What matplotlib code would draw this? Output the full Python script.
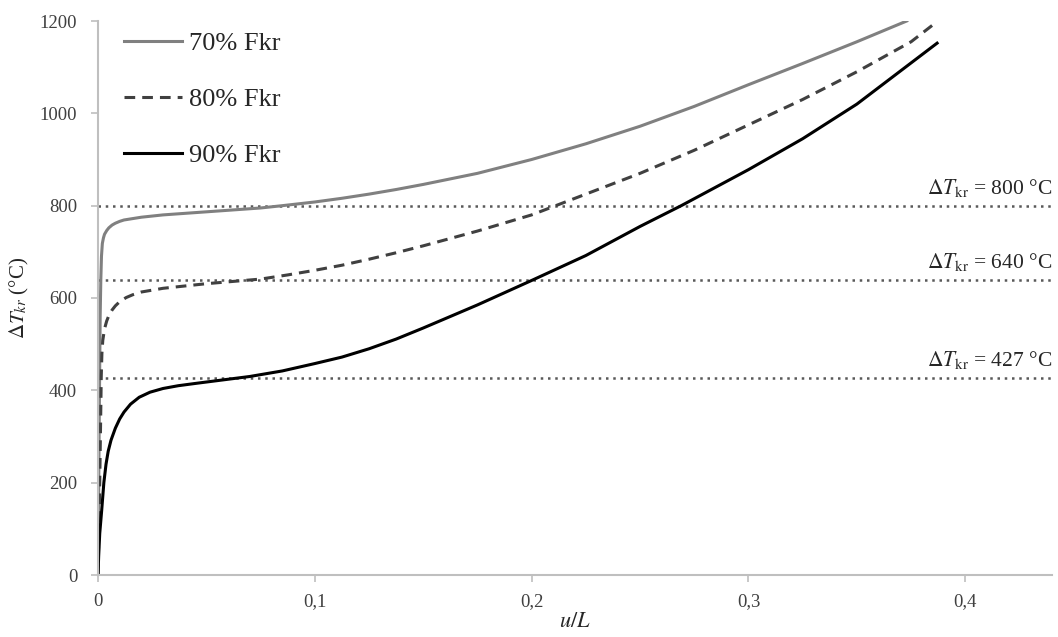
import matplotlib
matplotlib.use("Agg")
import matplotlib.pyplot as plt
from matplotlib.ticker import FuncFormatter

# u/L and Delta T_kr for each load level
u70 = [0, 0.0003, 0.0006, 0.001, 0.0013, 0.0016, 0.002, 0.0025, 0.003, 0.004, 0.005, 0.0065,
       0.008, 0.01, 0.012, 0.016, 0.02, 0.03, 0.045, 0.06, 0.075, 0.085, 0.1, 0.1125, 0.125,
       0.1375, 0.15, 0.175, 0.2, 0.225, 0.25, 0.275, 0.3, 0.325, 0.35, 0.373]
t70 = [0, 180, 350, 560, 640, 690, 718, 730, 738, 746, 752, 758,
       762, 766, 769, 772, 775, 780, 785, 790, 795, 800, 808, 816, 825,
       835, 846, 870, 900, 934, 972, 1015, 1062, 1108, 1155, 1200]

u80 = [0, 0.0005, 0.0008, 0.0012, 0.0015, 0.0018, 0.0022, 0.003, 0.004, 0.005, 0.0065, 0.008,
       0.01, 0.013, 0.016, 0.02, 0.025, 0.03, 0.04, 0.05, 0.0625, 0.075, 0.0875, 0.1, 0.1125,
       0.125, 0.1375, 0.15, 0.175, 0.2, 0.225, 0.25, 0.275, 0.3, 0.325, 0.35, 0.375, 0.386]
t80 = [0, 120, 200, 330, 430, 480, 508, 533, 550, 562, 574, 583,
       592, 601, 607, 613, 617, 621, 626, 631, 636, 641, 650, 660, 671,
       684, 698, 713, 745, 780, 825, 870, 920, 975, 1030, 1090, 1155, 1195]

u90 = [0, 0.0003, 0.0008, 0.0017, 0.0027, 0.0037, 0.0047, 0.006, 0.008, 0.01, 0.012, 0.015,
       0.019, 0.024, 0.03, 0.037, 0.045, 0.055, 0.07, 0.085, 0.1, 0.1125, 0.125, 0.1375,
       0.15, 0.175, 0.2, 0.225, 0.25, 0.269, 0.3, 0.325, 0.35, 0.387]
t90 = [0, 40, 90, 140, 200, 240, 268, 292, 318, 338, 353, 370,
       385, 396, 404, 410, 415, 421, 430, 442, 458, 472, 490, 511,
       535, 585, 638, 692, 755, 800, 878, 945, 1020, 1152]

labels = ['70% Fkr', '80% Fkr', '90% Fkr']
limits = [800, 640, 427]

plt.rcParams['font.family'] = ['Liberation Serif', 'DejaVu Serif']
plt.rcParams['mathtext.fontset'] = 'stix'

fig = plt.figure(figsize=(10.58, 6.37), dpi=100)
ax = fig.add_axes([98/1058, 1 - 575/637, (1052 - 98)/1058, (575 - 21)/637])

ax.plot(u70, t70, color='#808080', lw=2.2, label=labels[0], solid_joinstyle='round')
ax.plot(u80, t80, color='#404040', lw=2.2, ls=(0, (3.5, 2.3)), label=labels[1])
ax.plot(u90, t90, color='black', lw=2.2, label=labels[2], solid_joinstyle='round')

for val in limits:
    ax.axhline(val, color='#595959', lw=1.8, ls=(0, (1, 1.9)), zorder=1)
    ax.annotate(r'$\Delta T_{\mathrm{kr}}$ = %d °C' % val, xy=(0.44, val),
                xytext=(0, 5), textcoords='offset points', ha='right', va='bottom',
                fontsize=15.5, color='#262626')

ax.set_xlim(0, 0.44)
ax.set_ylim(0, 1200)
ax.set_xticks([0, 0.1, 0.2, 0.3, 0.4])
ax.set_yticks(range(0, 1201, 200))
ax.xaxis.set_major_formatter(FuncFormatter(lambda v, p: '0' if v == 0 else ('%.1f' % v).replace('.', ',')))

for side in ['top', 'right']:
    ax.spines[side].set_visible(False)
for side in ['left', 'bottom']:
    ax.spines[side].set_color('#BFBFBF')
    ax.spines[side].set_linewidth(1.5)
ax.tick_params(colors='#BFBFBF', labelcolor='#404040', labelsize=13.5, length=5, width=1.2)
ax.tick_params(axis='x', pad=8)
ax.tick_params(axis='y', pad=10)

ax.set_xlabel(r'$u/L$', fontsize=16, color='#262626', labelpad=2)
ax.set_ylabel(r'$\Delta T_{kr}$ (°C)', fontsize=15, color='#262626', labelpad=6)

leg = ax.legend(loc='upper left', bbox_to_anchor=(124/1058, 1 - 32/637),
                bbox_transform=fig.transFigure, frameon=False, fontsize=19,
                handlelength=2.2, handletextpad=0.25, labelspacing=1.22, borderpad=0,
                borderaxespad=0)
for txt in leg.get_texts():
    txt.set_color('#262626')

fig.savefig('out.png', dpi=100)
